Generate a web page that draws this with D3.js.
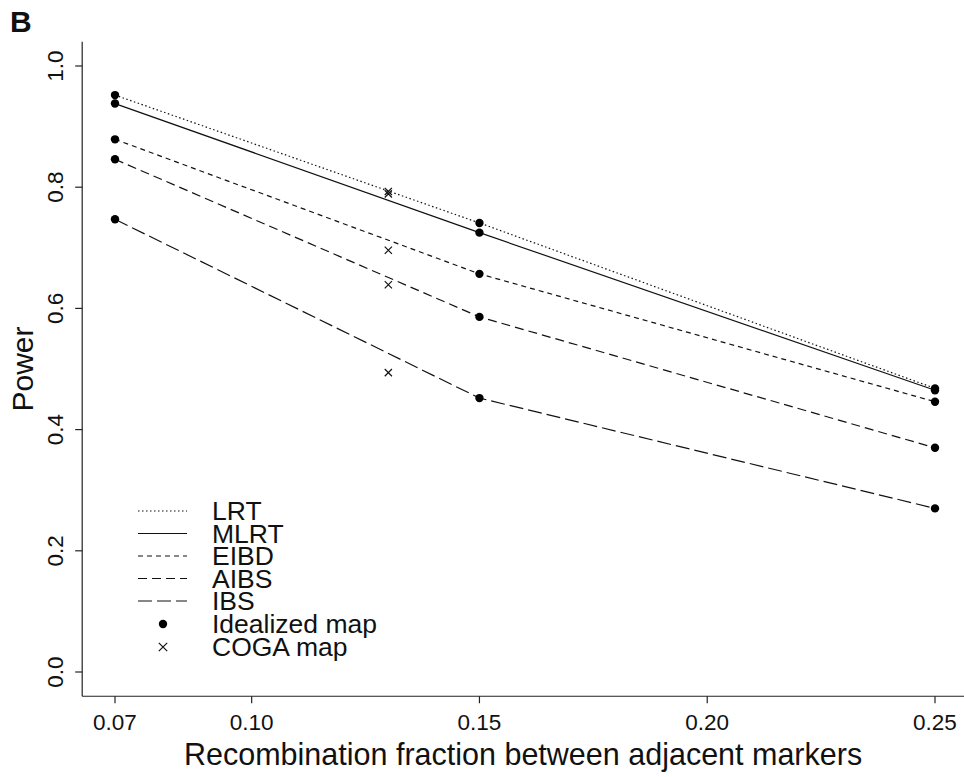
<!DOCTYPE html>
<html>
<head>
<meta charset="utf-8">
<script src="https://cdn.jsdelivr.net/npm/d3@7"></script>
<style>
  body { margin: 0; background: #fff; }
  text { font-family: "Liberation Sans", Arial, sans-serif; fill: #111; }
</style>
</head>
<body>
<svg id="chart" width="964" height="777"></svg>
<script>
// recombination fractions, idealized map
const idealX = [0.07, 0.15, 0.25]
// COGA map only at this fraction
const cogaX = 0.13
const methods = ["LRT", "MLRT", "EIBD", "AIBS", "IBS"]
const idealPower = {
  LRT: [0.952, 0.741, 0.468],
  MLRT: [0.938, 0.725, 0.465],
  EIBD: [0.879, 0.657, 0.446],
  AIBS: [0.846, 0.586, 0.370],
  IBS: [0.747, 0.452, 0.270]
}
const cogaPower = [0.793, 0.789, 0.696, 0.639, 0.494]
const xTicks = [0.07, 0.10, 0.15, 0.20, 0.25]
const yTicks = [0.0, 0.2, 0.4, 0.6, 0.8, 1.0]

const dashes = {
  LRT: "1.5,2.5",
  MLRT: null,
  EIBD: "5,4",
  AIBS: "9,5",
  IBS: "14,5"
}

let svg = d3.select("#chart")

// R style: 4% padding around data range
let xScale = d3.scaleLinear().domain([0.07, 0.25]).range([115, 935])
let yScale = d3.scaleLinear().domain([0, 1]).range([672, 66])
let xLo = xScale(0.0628), xHi = 964
let yTop = yScale(1.04), yBot = yScale(-0.04)

// axes (left + bottom only)
let axes = svg.append("g").attr("stroke", "#222").attr("stroke-width", 1.2)
axes.append("line").attr("x1", xLo).attr("x2", xLo).attr("y1", yTop).attr("y2", yBot)
axes.append("line").attr("x1", xLo).attr("x2", xHi).attr("y1", yBot).attr("y2", yBot)

axes.selectAll(".xt").data(xTicks).enter().append("line")
  .attr("x1", d => xScale(d)).attr("x2", d => xScale(d))
  .attr("y1", yBot).attr("y2", yBot + 7)
axes.selectAll(".yt").data(yTicks).enter().append("line")
  .attr("x1", xLo).attr("x2", xLo - 7)
  .attr("y1", d => yScale(d)).attr("y2", d => yScale(d))

svg.selectAll(".xl").data(xTicks).enter().append("text")
  .attr("x", d => xScale(d))
  .attr("y", 730)
  .attr("text-anchor", "middle")
  .attr("font-size", "22.5px")
  .text(d => d3.format(".2f")(d))

svg.selectAll(".yl").data(yTicks).enter().append("text")
  .attr("transform", d => `translate(63, ${yScale(d)}) rotate(-90)`)
  .attr("text-anchor", "middle")
  .attr("font-size", "22.5px")
  .text(d => d3.format(".1f")(d))

// axis titles
svg.append("text")
  .attr("x", (xLo + xHi) / 2)
  .attr("y", 765)
  .attr("text-anchor", "middle")
  .attr("font-size", "30.5px")
  .text("Recombination fraction between adjacent markers")
svg.append("text")
  .attr("transform", `translate(33, ${(yTop + yBot) / 2}) rotate(-90)`)
  .attr("text-anchor", "middle")
  .attr("font-size", "30px")
  .text("Power")

svg.append("text")
  .attr("x", 10).attr("y", 32)
  .attr("font-size", "30px")
  .attr("font-weight", "bold")
  .text("B")

// lines through idealized map points
let line = d3.line().x(d => xScale(d[0])).y(d => yScale(d[1]))
methods.forEach(m => {
  let pts = idealX.map((x, i) => [x, idealPower[m][i]])
  svg.append("path")
    .attr("d", line(pts))
    .attr("fill", "none")
    .attr("stroke", "#111")
    .attr("stroke-width", 1.2)
    .attr("stroke-dasharray", dashes[m])
  svg.selectAll(".dot-" + m).data(pts).enter().append("circle")
    .attr("cx", d => xScale(d[0]))
    .attr("cy", d => yScale(d[1]))
    .attr("r", 4.2)
    .attr("fill", "#000")
})

// COGA crosses
function cross(g, cx, cy, s) {
  g.append("path")
    .attr("d", `M${cx - s},${cy - s}L${cx + s},${cy + s}M${cx - s},${cy + s}L${cx + s},${cy - s}`)
    .attr("stroke", "#111")
    .attr("stroke-width", 1.2)
}
cogaPower.forEach(p => cross(svg, xScale(cogaX), yScale(p), 3.6))

// legend
let legendY = [511, 533.5, 556, 578.5, 601, 624, 647]
let lg = svg.append("g")
methods.forEach((m, i) => {
  lg.append("line")
    .attr("x1", 138).attr("x2", 187)
    .attr("y1", legendY[i]).attr("y2", legendY[i])
    .attr("stroke", "#111")
    .attr("stroke-width", 1.2)
    .attr("stroke-dasharray", dashes[m])
})
lg.append("circle").attr("cx", 163).attr("cy", legendY[5]).attr("r", 4.2).attr("fill", "#000")
cross(lg, 163, legendY[6], 4.2)
let labels = methods.concat(["Idealized map", "COGA map"])
lg.selectAll("text").data(labels).enter().append("text")
  .attr("x", 212)
  .attr("y", (d, i) => legendY[i])
  .attr("dy", "0.35em")
  .attr("font-size", "26.5px")
  .text(d => d)
</script>
</body>
</html>
